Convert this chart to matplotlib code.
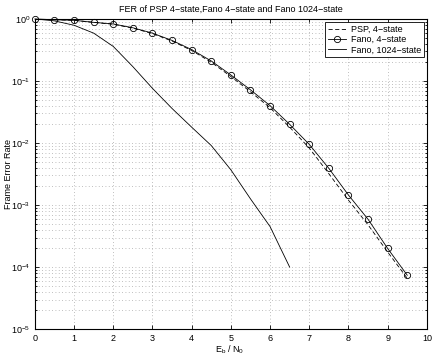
import numpy as np
import matplotlib
matplotlib.use("Agg")
import matplotlib.pyplot as plt
from matplotlib.ticker import LogLocator, NullFormatter

plt.rcParams['font.family'] = ['Liberation Sans', 'DejaVu Sans']
plt.rcParams['mathtext.default'] = 'regular'
plt.rcParams['font.size'] = 6.5

# Eb/N0 points (dB)
snr = [0, 0.5, 1, 1.5, 2, 2.5, 3, 3.5, 4, 4.5, 5, 5.5, 6, 6.5, 7, 7.5, 8, 8.5, 9, 9.5]

# Fano decoder, 4-state
fano4 = [1.0, 0.97, 0.95, 0.88, 0.83, 0.72, 0.59, 0.45, 0.32, 0.21, 0.125, 0.072,
         0.040, 0.020, 0.0095, 0.0039, 0.00145, 5.9e-4, 2.0e-4, 7.4e-5]

# PSP, 4-state
psp4 = [1.0, 0.97, 0.95, 0.88, 0.82, 0.71, 0.58, 0.44, 0.31, 0.2, 0.118, 0.067,
        0.037, 0.018, 0.0083, 0.0032, 0.0012, 4.8e-4, 1.75e-4, 6.6e-5]

# Fano decoder, 1024-state
snr1024 = [0, 0.5, 1, 1.5, 2, 2.5, 3, 3.5, 4, 4.5, 5, 5.5, 6, 6.5]
fano1024 = [1.0, 0.93, 0.79, 0.59, 0.36, 0.17, 0.076, 0.036, 0.018, 0.0091, 0.0037,
            0.00126, 4.5e-4, 1.0e-4]

fig = plt.figure(figsize=(4.36, 3.57), dpi=100)
ax = fig.add_axes([0.080, 0.078, 0.899, 0.869])

ax.semilogy(snr, psp4, color='black', linestyle=(0, (5, 3)), linewidth=0.6,
            label='PSP, 4\u2212state')
ax.semilogy(snr, fano4, color='black', linestyle='-', linewidth=0.6, marker='o',
            markersize=4.5, markerfacecolor='none', markeredgewidth=0.6,
            label='Fano, 4\u2212state', clip_on=False, zorder=5)
ax.semilogy(snr1024, fano1024, color='black', linestyle='-', linewidth=0.6,
            label='Fano, 1024\u2212state')

ax.set_xlim(0, 10)
ax.set_ylim(1e-5, 1)
ax.set_xticks(range(0, 11))
ax.yaxis.set_major_locator(LogLocator(base=10, numticks=10))
ax.yaxis.set_minor_locator(LogLocator(base=10, subs=np.arange(2, 10), numticks=20))
ax.yaxis.set_minor_formatter(NullFormatter())

ax.grid(True, which='major', linestyle=(0, (1, 3)), color='#aaaaaa', linewidth=0.6)
ax.grid(True, which='minor', axis='y', linestyle=(0, (1, 3)), color='#aaaaaa', linewidth=0.6)

ax.tick_params(which='both', direction='in', top=True, right=True, width=0.6)
ax.tick_params(which='major', length=3)
ax.tick_params(which='minor', length=1.5)
for s in ax.spines.values():
    s.set_linewidth(0.8)

ax.set_title('FER of PSP 4\u2212state,Fano 4\u2212state and Fano 1024\u2212state',
             fontsize=6.5, pad=5)
ax.set_xlabel('E$_b$ / N$_0$', fontsize=6.5)
ax.set_ylabel('Frame Error Rate', fontsize=6.5)
ax.xaxis.set_label_coords(0.497, -0.045, transform=ax.transAxes)
ax.yaxis.set_label_coords(-0.056, 0.5, transform=ax.transAxes)
ax.xaxis.label.set_va('top')

leg = ax.legend(loc='upper right', fontsize=6.5, fancybox=False, framealpha=1,
                edgecolor='black', borderpad=0.3, labelspacing=0.15,
                handlelength=2.0, handletextpad=0.5, borderaxespad=0.35)
leg.get_frame().set_linewidth(0.6)

fig.savefig('out.png', dpi=100)
